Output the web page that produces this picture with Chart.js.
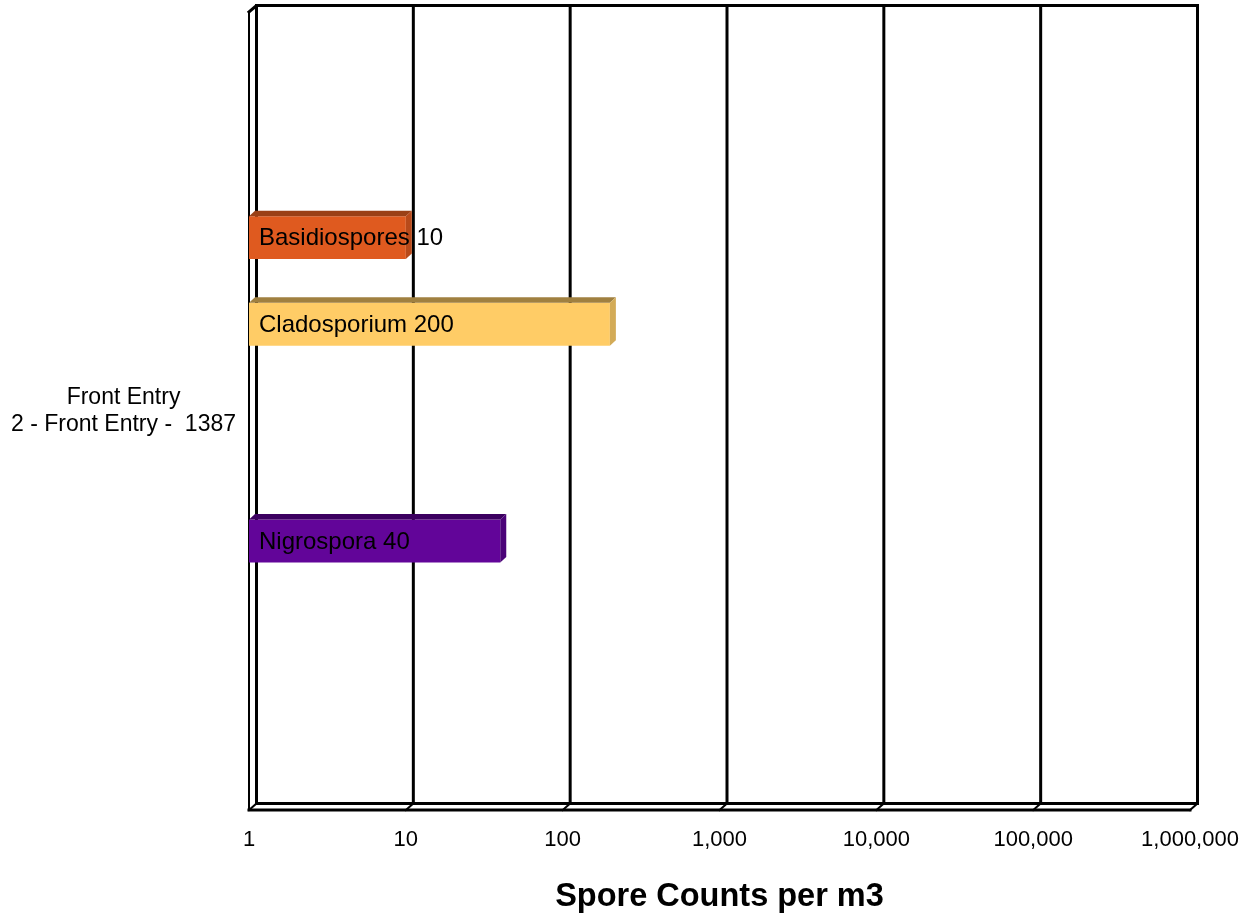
<!DOCTYPE html>
<html>
<head>
<meta charset="utf-8">
<title>Spore Counts per m3</title>
<script src="https://cdn.jsdelivr.net/npm/chart.js@4/dist/chart.umd.min.js"></script>
<style>
  html, body { margin: 0; padding: 0; background: #ffffff; }
  #wrap { width: 1246px; height: 917px; }
</style>
</head>
<body>
<div id="wrap"><canvas id="chart" width="1246" height="917"></canvas></div>
<script>
// ---- data ----
const categories = [['Front Entry', '2 - Front Entry -  1387']];
const seriesNames = ['Basidiospores', '', 'Cladosporium', '', '', '', '', 'Nigrospora', ''];
const seriesValues = [10, null, 200, null, null, null, null, 40, null];
const tickValues = [1, 10, 100, 1000, 10000, 100000, 1000000];

// ---- styles ----
const frontColors = ['#DF5A1F', '#999999', '#FFCC66', '#999999', '#999999', '#999999', '#999999', '#620599', '#999999'];
const topColors   = ['#9A4016', '#777777', '#A08040', '#777777', '#777777', '#777777', '#777777', '#3C0060', '#777777'];
const sideColors  = ['#B84A1A', '#888888', '#D3AB57', '#888888', '#888888', '#888888', '#888888', '#4B0378', '#888888'];

const FONT = "'Liberation Sans', Arial, Helvetica, sans-serif";
Chart.defaults.font.family = FONT;
Chart.defaults.color = '#000000';

// depth of the back wall and of the bars (pixels, right / up)
const WALL_DX = 7.5, WALL_DY = 6.5;
const BAR_DX = 6, BAR_DY = 5.5;

// Back wall, side wall and floor outlines with the grid lines on the back wall
const walls3d = {
  id: 'walls3d',
  beforeDatasetsDraw(chart) {
    const { ctx, chartArea: a, scales: { x } } = chart;
    const left = a.left, right = a.right, top = a.top, bottom = a.bottom;
    ctx.save();
    ctx.strokeStyle = '#000000';
    ctx.lineCap = 'square';

    // front axis line (left)
    ctx.lineWidth = 2;
    ctx.beginPath();
    ctx.moveTo(left, top);
    ctx.lineTo(left, bottom);
    ctx.stroke();

    // grid lines on the back wall, one per tick
    ctx.lineWidth = 3;
    tickValues.forEach(v => {
      const px = x.getPixelForValue(v) + WALL_DX;
      ctx.beginPath();
      ctx.moveTo(px, top - WALL_DY);
      ctx.lineTo(px, bottom - WALL_DY);
      ctx.stroke();
    });

    // top edge of the back wall and its corner to the front
    ctx.beginPath();
    ctx.moveTo(left, top);
    ctx.lineTo(left + WALL_DX, top - WALL_DY);
    ctx.lineTo(right + WALL_DX, top - WALL_DY);
    ctx.stroke();

    // back edge of the floor
    ctx.beginPath();
    ctx.moveTo(left + WALL_DX, bottom - WALL_DY);
    ctx.lineTo(right + WALL_DX, bottom - WALL_DY);
    ctx.stroke();

    // front edge of the floor
    ctx.beginPath();
    ctx.moveTo(left, bottom);
    ctx.lineTo(right, bottom);
    ctx.stroke();

    // floor connectors from each grid line to the front edge
    ctx.lineWidth = 2;
    tickValues.forEach(v => {
      const px = x.getPixelForValue(v);
      ctx.beginPath();
      ctx.moveTo(px + WALL_DX, bottom - WALL_DY);
      ctx.lineTo(px, bottom);
      ctx.stroke();
    });
    ctx.restore();
  }
};

// Top and end faces of each bar plus its "name value" label
const bars3d = {
  id: 'bars3d',
  afterDatasetsDraw(chart) {
    const { ctx } = chart;
    ctx.save();
    chart.data.datasets.forEach((ds, i) => {
      const meta = chart.getDatasetMeta(i);
      meta.data.forEach((el, j) => {
        const value = ds.data[j];
        if (value === null || value === undefined) return;
        const { x, y, base, height } = el.getProps(['x', 'y', 'base', 'height'], true);
        const t = y - height / 2, b = y + height / 2;

        // top face
        ctx.fillStyle = topColors[i];
        ctx.beginPath();
        ctx.moveTo(base, t);
        ctx.lineTo(base + BAR_DX, t - BAR_DY);
        ctx.lineTo(x + BAR_DX, t - BAR_DY);
        ctx.lineTo(x, t);
        ctx.closePath();
        ctx.fill();

        // end face
        ctx.fillStyle = sideColors[i];
        ctx.beginPath();
        ctx.moveTo(x, t);
        ctx.lineTo(x + BAR_DX, t - BAR_DY);
        ctx.lineTo(x + BAR_DX, b - BAR_DY);
        ctx.lineTo(x, b);
        ctx.closePath();
        ctx.fill();

        // label
        ctx.fillStyle = '#000000';
        ctx.font = '24px ' + FONT;
        ctx.textAlign = 'left';
        ctx.textBaseline = 'middle';
        ctx.fillText(ds.label + ' ' + Number(value).toLocaleString('en-US'), base + 10, y + 1);
      });
    });
    ctx.restore();
  }
};

new Chart(document.getElementById('chart'), {
  type: 'bar',
  data: {
    labels: categories,
    datasets: seriesNames.map((name, i) => ({
      label: name,
      data: [seriesValues[i]],
      backgroundColor: frontColors[i],
      borderWidth: 0,
      categoryPercentage: 0.4889,
      barPercentage: 0.99
    }))
  },
  options: {
    indexAxis: 'y',
    responsive: false,
    animation: false,
    layout: { padding: { top: 12, right: 56, bottom: 0, left: 11 } },
    plugins: {
      legend: { display: false },
      tooltip: { enabled: false }
    },
    scales: {
      x: {
        type: 'logarithmic',
        min: 1,
        max: 1000000,
        grid: { display: false, drawTicks: false },
        border: { display: false },
        afterBuildTicks: scale => { scale.ticks = tickValues.map(v => ({ value: v })); },
        afterFit: scale => {
          scale.height = 107;
          scale.paddingLeft = 0;
          scale.paddingRight = 0;
        },
        ticks: {
          autoSkip: false,
          maxRotation: 0,
          padding: 17,
          color: '#000000',
          font: { size: 22 },
          callback: v => Number(v).toLocaleString('en-US')
        },
        title: {
          display: true,
          text: 'Spore Counts per m3',
          color: '#000000',
          font: { size: 32.5, weight: 'bold' },
          padding: { top: 25, bottom: 0 }
        }
      },
      y: {
        grid: { display: false, drawTicks: false },
        border: { display: false },
        afterFit: scale => {
          scale.width = 238;
          scale.paddingTop = 0;
          scale.paddingBottom = 0;
        },
        ticks: {
          crossAlign: 'center',
          padding: 13,
          color: '#000000',
          font: { size: 23 }
        }
      }
    }
  },
  plugins: [walls3d, bars3d]
});
</script>
</body>
</html>
